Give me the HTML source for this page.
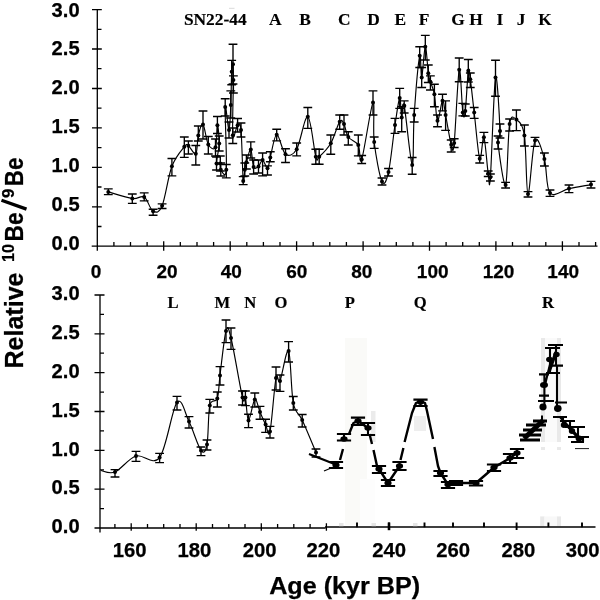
<!DOCTYPE html><html><head><meta charset="utf-8"><title>chart</title>
<style>html,body{margin:0;padding:0;background:#fff;}body{width:600px;height:600px;overflow:hidden;font-family:"Liberation Sans",sans-serif;}svg{display:block;will-change:transform;filter:blur(0.4px);}text{font-family:"Liberation Sans",sans-serif;font-weight:bold;fill:#000;stroke:#000;stroke-width:0.25px;}.s{font-family:"Liberation Serif",serif;font-weight:bold;stroke-width:0.15px;}</style>
</head><body>
<svg width="600" height="600" viewBox="0 0 600 600">
<rect width="600" height="600" fill="#fff"/>
<g>
<rect x="345" y="338" width="22" height="187" fill="#fafaf8"/>
<rect x="360" y="479" width="15" height="46" fill="#fdfdfd"/>
<rect x="371" y="411" width="4.5" height="31" fill="#ebebeb"/>
<rect x="414" y="416" width="12" height="15" fill="#eeeeee"/>
<rect x="541" y="338" width="20" height="104" fill="#fafafa"/>
<rect x="541" y="338" width="4" height="104" fill="#e9e9e9"/>
<rect x="557" y="338" width="4" height="104" fill="#e9e9e9"/>
<rect x="541" y="447" width="4" height="3" fill="#e9e9e9"/>
<rect x="557" y="447" width="4" height="3" fill="#e9e9e9"/>
<rect x="540.2" y="516.4" width="4.3" height="10" fill="#e9e9e9"/>
<rect x="556.7" y="516.4" width="4.3" height="10" fill="#e9e9e9"/><rect x="544.5" y="516.4" width="12.2" height="10" fill="#f8f8f8"/>
</g>
<path d="M97.3 9.6V250.8M92.0 246.2H101.8M92.0 206.8H101.8M92.0 167.3H101.8M92.0 127.9H101.8M92.0 88.5H101.8M92.0 49.0H101.8M92.0 9.6H101.8M97.3 226.5H101.5M97.3 187.0H101.5M97.3 147.6H101.5M97.3 108.2H101.5M97.3 68.7H101.5M97.3 29.3H101.5M91.7 246.2H597.5M113.9 242.0V246.2M130.5 242.0V246.2M147.1 242.0V246.2M163.7 241.3V250.8M180.3 242.0V246.2M197.0 242.0V246.2M213.6 242.0V246.2M230.2 241.3V250.8M246.8 242.0V246.2M263.4 242.0V246.2M280.0 242.0V246.2M296.6 241.3V250.8M313.2 242.0V246.2M329.8 242.0V246.2M346.4 242.0V246.2M363.1 241.3V250.8M379.7 242.0V246.2M396.3 242.0V246.2M412.9 242.0V246.2M429.5 241.3V250.8M446.1 242.0V246.2M462.7 242.0V246.2M479.3 242.0V246.2M495.9 241.3V250.8M512.5 242.0V246.2M529.2 242.0V246.2M545.8 242.0V246.2M562.4 241.3V250.8M579.0 242.0V246.2M595.6 242.0V246.2" stroke="#000" stroke-width="1.3" fill="none"/>
<path d="M100.0 295.0V532.5M94.5 528.0H104.5M94.5 489.2H104.5M94.5 450.3H104.5M94.5 411.5H104.5M94.5 372.7H104.5M94.5 333.8H104.5M94.5 295.0H104.5M100.0 508.6H104.0M100.0 469.8H104.0M100.0 430.9H104.0M100.0 392.1H104.0M100.0 353.2H104.0M100.0 314.4H104.0M94.5 528.0H325.5M114.9 524.0V528.0M131.2 523.3V530.8M147.5 524.0V528.0M163.7 524.0V528.0M180.0 524.0V528.0M196.2 523.3V530.8M212.5 524.0V528.0M228.8 524.0V528.0M245.0 524.0V528.0M261.3 523.3V530.8M277.6 524.0V528.0M293.8 524.0V528.0M310.1 524.0V528.0M326.4 523.3V530.8" stroke="#000" stroke-width="1.3" fill="none"/>
<path d="M325 526.9H595.5" stroke="#000" stroke-width="1.5" fill="none"/>
<path d="M357.0 522.5V527.2M389.0 522.5V530.0M424.5 522.5V527.2M453.0 522.5V527.2M484.0 522.5V527.2M516.6 522.5V530.0M548.4 522.5V527.2M582.0 522.5V527.2" stroke="#000" stroke-width="1.9" fill="none"/>
<path d="M389 522.5V530.2" stroke="#000" stroke-width="2.6" fill="none"/>
<rect x="339.0" y="523" width="4.5" height="3.2" fill="#e6e6e6"/>
<rect x="371.5" y="523" width="4.5" height="3.2" fill="#e6e6e6"/>
<rect x="413.0" y="523" width="4.5" height="3.2" fill="#e6e6e6"/>
<text x="79.6" y="249.9" font-size="19.3" text-anchor="end" textLength="28" lengthAdjust="spacingAndGlyphs">0.0</text>
<text x="79.6" y="533.2" font-size="19.3" text-anchor="end" textLength="28" lengthAdjust="spacingAndGlyphs">0.0</text>
<text x="79.6" y="211.0" font-size="19.3" text-anchor="end" textLength="28" lengthAdjust="spacingAndGlyphs">0.5</text>
<text x="79.6" y="494.4" font-size="19.3" text-anchor="end" textLength="28" lengthAdjust="spacingAndGlyphs">0.5</text>
<text x="79.6" y="172.1" font-size="19.3" text-anchor="end" textLength="28" lengthAdjust="spacingAndGlyphs">1.0</text>
<text x="79.6" y="455.5" font-size="19.3" text-anchor="end" textLength="28" lengthAdjust="spacingAndGlyphs">1.0</text>
<text x="79.6" y="133.2" font-size="19.3" text-anchor="end" textLength="28" lengthAdjust="spacingAndGlyphs">1.5</text>
<text x="79.6" y="416.7" font-size="19.3" text-anchor="end" textLength="28" lengthAdjust="spacingAndGlyphs">1.5</text>
<text x="79.6" y="94.3" font-size="19.3" text-anchor="end" textLength="28" lengthAdjust="spacingAndGlyphs">2.0</text>
<text x="79.6" y="377.9" font-size="19.3" text-anchor="end" textLength="28" lengthAdjust="spacingAndGlyphs">2.0</text>
<text x="79.6" y="55.4" font-size="19.3" text-anchor="end" textLength="28" lengthAdjust="spacingAndGlyphs">2.5</text>
<text x="79.6" y="339.0" font-size="19.3" text-anchor="end" textLength="28" lengthAdjust="spacingAndGlyphs">2.5</text>
<text x="79.6" y="16.5" font-size="19.3" text-anchor="end" textLength="28" lengthAdjust="spacingAndGlyphs">3.0</text>
<text x="79.6" y="300.2" font-size="19.3" text-anchor="end" textLength="28" lengthAdjust="spacingAndGlyphs">3.0</text>
<text x="96.0" y="277.9" font-size="19.0" text-anchor="middle">0</text>
<text x="167.0" y="277.9" font-size="19.0" text-anchor="middle">20</text>
<text x="231.3" y="277.9" font-size="19.0" text-anchor="middle">40</text>
<text x="296.7" y="277.9" font-size="19.0" text-anchor="middle">60</text>
<text x="361.7" y="277.9" font-size="19.0" text-anchor="middle">80</text>
<text x="432.7" y="277.9" font-size="19.0" text-anchor="middle">100</text>
<text x="498.6" y="277.9" font-size="19.0" text-anchor="middle">120</text>
<text x="563.2" y="277.9" font-size="19.0" text-anchor="middle">140</text>
<text x="129.7" y="557.3" font-size="20.3" text-anchor="middle">160</text>
<text x="194.3" y="557.3" font-size="20.3" text-anchor="middle">180</text>
<text x="259.7" y="557.3" font-size="20.3" text-anchor="middle">200</text>
<text x="323.4" y="557.3" font-size="20.3" text-anchor="middle">220</text>
<text x="389.2" y="557.3" font-size="20.3" text-anchor="middle">240</text>
<text x="453.1" y="557.3" font-size="20.3" text-anchor="middle">260</text>
<text x="518.3" y="557.3" font-size="20.3" text-anchor="middle">280</text>
<text x="582.7" y="557.3" font-size="20.3" text-anchor="middle">300</text>
<text x="269.2" y="593.8" font-size="24.4" textLength="151" lengthAdjust="spacingAndGlyphs">Age (kyr BP)</text>
<g transform="translate(23.2,368.5) rotate(-90)">
<text x="0" y="0" font-size="25" textLength="96" lengthAdjust="spacingAndGlyphs">Relative</text>
<text x="106.5" y="-9.2" font-size="17.3" textLength="18" lengthAdjust="spacingAndGlyphs">10</text>
<text x="127" y="0" font-size="25" textLength="29" lengthAdjust="spacingAndGlyphs">Be</text>
<path d="M159.4 3.3L168.2 -21.7" stroke="#000" stroke-width="3.3" fill="none"/>
<text x="170.5" y="-9.2" font-size="17.3" textLength="9.3" lengthAdjust="spacingAndGlyphs">9</text>
<text x="182.3" y="0" font-size="25" textLength="28.5" lengthAdjust="spacingAndGlyphs">Be</text>
</g>
<text class="s" x="215.3" y="25.2" font-size="17.4" text-anchor="middle">SN22-44</text>
<text class="s" x="275.2" y="25.2" font-size="17.4" text-anchor="middle">A</text>
<text class="s" x="305.0" y="25.2" font-size="17.4" text-anchor="middle">B</text>
<text class="s" x="344.2" y="25.2" font-size="17.4" text-anchor="middle">C</text>
<text class="s" x="373.5" y="25.2" font-size="17.4" text-anchor="middle">D</text>
<text class="s" x="400.2" y="25.2" font-size="17.4" text-anchor="middle">E</text>
<text class="s" x="424.0" y="25.2" font-size="17.4" text-anchor="middle">F</text>
<text class="s" x="458.0" y="25.2" font-size="17.4" text-anchor="middle">G</text>
<text class="s" x="476.0" y="25.2" font-size="17.4" text-anchor="middle">H</text>
<text class="s" x="500.0" y="25.2" font-size="17.4" text-anchor="middle">I</text>
<text class="s" x="521.0" y="25.2" font-size="17.4" text-anchor="middle">J</text>
<text class="s" x="545.0" y="25.2" font-size="17.4" text-anchor="middle">K</text>
<text class="s" x="173.0" y="308.2" font-size="16.6" text-anchor="middle">L</text>
<text class="s" x="222.4" y="308.2" font-size="16.6" text-anchor="middle">M</text>
<text class="s" x="250.2" y="308.2" font-size="16.6" text-anchor="middle">N</text>
<text class="s" x="281.0" y="308.2" font-size="16.6" text-anchor="middle">O</text>
<text class="s" x="349.9" y="308.2" font-size="16.6" text-anchor="middle">P</text>
<text class="s" x="420.3" y="308.2" font-size="16.6" text-anchor="middle">Q</text>
<text class="s" x="548.0" y="308.2" font-size="16.6" text-anchor="middle">R</text>
<path d="M229 8.3H234.5" stroke="#d6d6d6" stroke-width="0.9" fill="none"/>
<path d="M108.3 191.9 C112.3 193.0 126.3 197.6 132.3 198.5 C138.3 199.4 140.7 195.0 144.2 197.1 C147.7 199.2 150.1 209.9 153.1 211.3 C156.1 212.8 159.0 213.3 162.1 205.8 C165.2 198.3 168.2 176.2 171.9 166.3 C175.6 156.5 181.6 150.1 184.3 146.7 C187.1 143.3 186.5 144.5 188.4 145.7 C190.3 146.9 194.2 155.5 195.8 153.8 C197.5 152.1 197.1 140.4 198.3 135.5 C199.5 130.6 201.3 123.0 203.0 124.5 C204.7 126.0 206.2 140.7 208.3 144.5 C210.4 148.3 214.0 150.5 215.5 147.3 C217.0 144.1 216.8 125.8 217.4 125.2 C218.0 124.6 219.3 137.1 219.2 143.5 C219.0 149.9 216.3 160.2 216.5 163.6 C216.7 166.9 219.6 162.6 220.3 163.6 C221.0 164.6 219.8 168.8 220.8 169.8 C221.8 170.8 225.6 180.3 226.3 169.8 C227.0 159.3 224.8 113.6 225.2 107.0 C225.6 100.4 228.1 130.3 229.0 130.0 C229.9 129.7 230.4 114.7 230.8 105.0 C231.2 95.3 231.3 78.5 231.7 71.7 C232.1 64.9 232.7 62.8 233.0 64.2 C233.3 65.6 233.4 68.2 233.4 80.0 C233.4 91.8 232.1 127.6 232.8 135.2 C233.5 142.8 236.2 126.2 237.6 125.3 C239.0 124.4 240.1 120.7 241.0 130.0 C241.9 139.3 242.6 174.4 243.2 181.0 C243.8 187.6 244.3 172.9 244.8 169.8 C245.3 166.7 245.4 165.7 246.4 162.3 C247.4 158.9 249.6 148.6 250.8 149.4 C252.0 150.2 252.3 164.2 253.6 167.0 C254.9 169.8 257.0 167.6 258.5 166.4 C260.0 165.2 261.1 159.7 262.6 160.0 C264.1 160.3 266.2 168.7 267.5 168.3 C268.8 167.9 268.8 163.1 270.3 157.5 C271.8 151.9 274.2 135.2 276.7 134.7 C279.2 134.1 282.2 151.8 285.5 154.2 C288.8 156.6 293.0 155.4 296.7 149.2 C300.4 142.9 304.6 115.5 307.8 116.7 C311.0 118.0 313.9 150.0 315.8 156.7 C317.7 163.4 316.7 158.9 319.2 156.7 C321.7 154.5 327.4 149.1 330.8 143.3 C334.2 137.5 337.5 124.9 339.7 121.7 C341.9 118.5 342.6 121.5 344.0 124.0 C345.4 126.5 345.9 133.5 348.3 137.0 C350.7 140.5 356.1 141.2 358.3 145.0 C360.5 148.8 359.2 166.6 361.7 159.5 C364.1 152.4 370.9 105.4 373.0 102.5 C375.1 99.6 372.7 128.8 374.2 142.0 C375.7 155.2 379.6 176.5 382.0 181.5 C384.4 186.5 386.3 181.4 388.5 172.0 C390.7 162.6 393.1 137.3 395.0 125.0 C396.9 112.7 398.6 99.2 399.7 98.0 C400.8 96.8 400.9 116.2 401.7 117.5 C402.4 118.8 402.4 97.6 404.2 105.5 C405.9 113.4 410.5 163.4 412.2 165.0 C413.9 166.6 412.9 133.2 414.2 115.0 C415.4 96.8 418.4 62.0 419.7 55.8 C420.9 49.5 420.8 79.0 421.7 77.5 C422.6 76.0 424.2 47.4 425.3 46.7 C426.4 46.0 427.5 67.5 428.3 73.3 C429.1 79.1 429.4 78.2 430.4 81.7 C431.4 85.2 433.2 87.7 434.4 94.2 C435.6 100.7 436.1 119.7 437.5 120.8 C438.9 121.9 441.1 101.8 442.5 100.8 C443.9 99.8 444.2 107.7 445.6 115.0 C447.1 122.3 449.8 140.0 451.2 144.7 C452.6 149.4 452.9 155.5 454.2 143.0 C455.5 130.5 457.8 74.8 459.2 69.7 C460.6 64.6 461.8 105.6 462.8 112.5 C463.8 119.4 464.4 118.0 465.3 111.0 C466.2 104.0 467.5 76.1 468.3 70.8 C469.1 65.5 469.3 72.2 470.3 79.2 C471.3 86.2 472.6 99.2 474.2 112.5 C475.8 125.8 478.1 154.6 479.7 158.7 C481.3 162.8 482.5 134.8 483.9 137.3 C485.3 139.8 487.1 166.8 488.2 173.5 C489.3 180.2 489.2 193.2 490.4 177.2 C491.6 161.2 493.9 85.3 495.5 77.6 C497.1 69.9 499.6 120.2 500.0 131.0 C500.4 141.8 497.1 133.4 498.0 142.4 C498.9 151.4 503.7 188.1 505.6 185.0 C507.5 181.9 507.8 134.9 509.6 124.0 C511.4 113.1 513.9 117.7 516.4 119.6 C518.9 121.5 522.5 123.2 524.4 135.6 C526.3 148.0 526.2 193.2 528.0 194.0 C529.8 194.8 532.3 146.2 535.0 140.4 C537.7 134.6 541.9 150.2 544.4 159.0 C546.9 167.8 545.9 188.1 550.0 193.0 C554.1 197.9 562.2 190.0 569.0 188.6 C575.8 187.2 587.3 185.3 591.0 184.6" stroke="#000" stroke-width="1.15" fill="none" stroke-linejoin="round"/>
<path d="M108.3 188.8V194.6M103.9 188.8H112.7M103.9 194.6H112.7" stroke="#000" stroke-width="1.35" fill="none"/><circle cx="108.3" cy="191.9" r="2.0" fill="#000"/>
<path d="M132.3 194.0V203.3M127.9 194.0H136.7M127.9 203.3H136.7" stroke="#000" stroke-width="1.35" fill="none"/><circle cx="132.3" cy="198.5" r="2.0" fill="#000"/>
<path d="M144.2 192.9V200.8M139.8 192.9H148.6M139.8 200.8H148.6" stroke="#000" stroke-width="1.35" fill="none"/><circle cx="144.2" cy="197.1" r="2.0" fill="#000"/>
<path d="M153.1 209.2V215.2M148.7 209.2H157.5M148.7 215.2H157.5" stroke="#000" stroke-width="1.35" fill="none"/><circle cx="153.1" cy="211.3" r="2.0" fill="#000"/>
<path d="M162.1 203.8V208.5M157.7 203.8H166.5M157.7 208.5H166.5" stroke="#000" stroke-width="1.35" fill="none"/><circle cx="162.1" cy="205.8" r="2.0" fill="#000"/>
<path d="M171.9 158.5V175.8M167.5 158.5H176.3M167.5 175.8H176.3" stroke="#000" stroke-width="1.35" fill="none"/><circle cx="171.9" cy="166.3" r="2.0" fill="#000"/>
<path d="M184.3 137.0V157.3M179.9 137.0H188.7M179.9 157.3H188.7" stroke="#000" stroke-width="1.35" fill="none"/><circle cx="184.3" cy="146.7" r="2.0" fill="#000"/>
<path d="M188.4 141.0V154.0M184.0 141.0H192.8M184.0 154.0H192.8" stroke="#000" stroke-width="1.35" fill="none"/><circle cx="188.4" cy="145.7" r="2.0" fill="#000"/>
<path d="M195.8 145.5V165.0M191.4 145.5H200.2M191.4 165.0H200.2" stroke="#000" stroke-width="1.35" fill="none"/><circle cx="195.8" cy="153.8" r="2.0" fill="#000"/>
<path d="M198.3 126.0V141.0M193.9 126.0H202.7M193.9 141.0H202.7" stroke="#000" stroke-width="1.35" fill="none"/><circle cx="198.3" cy="135.5" r="2.0" fill="#000"/>
<path d="M203.0 111.0V139.0M198.6 111.0H207.4M198.6 139.0H207.4" stroke="#000" stroke-width="1.35" fill="none"/><circle cx="203.0" cy="124.5" r="2.0" fill="#000"/>
<path d="M208.3 136.5V154.0M203.9 136.5H212.7M203.9 154.0H212.7" stroke="#000" stroke-width="1.35" fill="none"/><circle cx="208.3" cy="144.5" r="2.0" fill="#000"/>
<path d="M215.5 139.0V156.0M211.1 139.0H219.9M211.1 156.0H219.9" stroke="#000" stroke-width="1.35" fill="none"/><circle cx="215.5" cy="147.3" r="2.0" fill="#000"/>
<path d="M217.4 116.5V133.5M213.0 116.5H221.8M213.0 133.5H221.8" stroke="#000" stroke-width="1.35" fill="none"/><circle cx="217.4" cy="125.2" r="2.0" fill="#000"/>
<path d="M219.2 136.0V151.0M214.8 136.0H223.6M214.8 151.0H223.6" stroke="#000" stroke-width="1.35" fill="none"/><circle cx="219.2" cy="143.5" r="2.0" fill="#000"/>
<path d="M216.5 157.0V170.0M212.1 157.0H220.9M212.1 170.0H220.9" stroke="#000" stroke-width="1.35" fill="none"/><circle cx="216.5" cy="163.6" r="2.0" fill="#000"/>
<path d="M220.3 156.0V171.0M215.9 156.0H224.7M215.9 171.0H224.7" stroke="#000" stroke-width="1.35" fill="none"/><circle cx="220.3" cy="163.6" r="2.0" fill="#000"/>
<path d="M220.8 163.0V176.0M216.4 163.0H225.2M216.4 176.0H225.2" stroke="#000" stroke-width="1.35" fill="none"/><circle cx="220.8" cy="169.8" r="2.0" fill="#000"/>
<path d="M226.3 164.5V177.8M221.9 164.5H230.7M221.9 177.8H230.7" stroke="#000" stroke-width="1.35" fill="none"/><circle cx="226.3" cy="169.8" r="2.0" fill="#000"/>
<path d="M225.2 98.7V116.0M220.8 98.7H229.6M220.8 116.0H229.6" stroke="#000" stroke-width="1.35" fill="none"/><circle cx="225.2" cy="107.0" r="2.0" fill="#000"/>
<path d="M229.0 122.0V138.0M224.6 122.0H233.4M224.6 138.0H233.4" stroke="#000" stroke-width="1.35" fill="none"/><circle cx="229.0" cy="130.0" r="2.0" fill="#000"/>
<path d="M230.8 90.8V118.0M226.4 90.8H235.2M226.4 118.0H235.2" stroke="#000" stroke-width="1.35" fill="none"/><circle cx="230.8" cy="105.0" r="2.0" fill="#000"/>
<path d="M231.7 60.3V84.7M227.3 60.3H236.1M227.3 84.7H236.1" stroke="#000" stroke-width="1.35" fill="none"/><circle cx="231.7" cy="71.7" r="2.0" fill="#000"/>
<path d="M233.0 44.2V84.0M228.6 44.2H237.4M228.6 84.0H237.4" stroke="#000" stroke-width="1.35" fill="none"/><circle cx="233.0" cy="64.2" r="2.0" fill="#000"/>
<path d="M233.4 75.8V93.0M229.0 75.8H237.8M229.0 93.0H237.8" stroke="#000" stroke-width="1.35" fill="none"/><circle cx="233.4" cy="80.0" r="2.0" fill="#000"/>
<path d="M232.8 128.0V143.5M228.4 128.0H237.2M228.4 143.5H237.2" stroke="#000" stroke-width="1.35" fill="none"/><circle cx="232.8" cy="135.2" r="2.0" fill="#000"/>
<path d="M237.6 118.5V132.0M233.2 118.5H242.0M233.2 132.0H242.0" stroke="#000" stroke-width="1.35" fill="none"/><circle cx="237.6" cy="125.3" r="2.0" fill="#000"/>
<path d="M241.0 123.0V137.0M236.6 123.0H245.4M236.6 137.0H245.4" stroke="#000" stroke-width="1.35" fill="none"/><circle cx="241.0" cy="130.0" r="2.0" fill="#000"/>
<path d="M243.2 176.6V184.6M238.8 176.6H247.6M238.8 184.6H247.6" stroke="#000" stroke-width="1.35" fill="none"/><circle cx="243.2" cy="181.0" r="2.0" fill="#000"/>
<path d="M244.8 163.0V176.0M240.4 163.0H249.2M240.4 176.0H249.2" stroke="#000" stroke-width="1.35" fill="none"/><circle cx="244.8" cy="169.8" r="2.0" fill="#000"/>
<path d="M246.4 155.0V169.0M242.0 155.0H250.8M242.0 169.0H250.8" stroke="#000" stroke-width="1.35" fill="none"/><circle cx="246.4" cy="162.3" r="2.0" fill="#000"/>
<path d="M250.8 141.8V158.0M246.4 141.8H255.2M246.4 158.0H255.2" stroke="#000" stroke-width="1.35" fill="none"/><circle cx="250.8" cy="149.4" r="2.0" fill="#000"/>
<path d="M253.6 160.0V174.0M249.2 160.0H258.0M249.2 174.0H258.0" stroke="#000" stroke-width="1.35" fill="none"/><circle cx="253.6" cy="167.0" r="2.0" fill="#000"/>
<path d="M258.5 160.0V173.0M254.1 160.0H262.9M254.1 173.0H262.9" stroke="#000" stroke-width="1.35" fill="none"/><circle cx="258.5" cy="166.4" r="2.0" fill="#000"/>
<path d="M262.6 153.0V175.8M258.2 153.0H267.0M258.2 175.8H267.0" stroke="#000" stroke-width="1.35" fill="none"/><circle cx="262.6" cy="160.0" r="2.0" fill="#000"/>
<path d="M267.5 165.8V175.0M263.1 165.8H271.9M263.1 175.0H271.9" stroke="#000" stroke-width="1.35" fill="none"/><circle cx="267.5" cy="168.3" r="2.0" fill="#000"/>
<path d="M270.3 151.7V161.7M265.9 151.7H274.7M265.9 161.7H274.7" stroke="#000" stroke-width="1.35" fill="none"/><circle cx="270.3" cy="157.5" r="2.0" fill="#000"/>
<path d="M276.7 129.2V140.8M272.3 129.2H281.1M272.3 140.8H281.1" stroke="#000" stroke-width="1.35" fill="none"/><circle cx="276.7" cy="134.7" r="2.0" fill="#000"/>
<path d="M285.5 148.7V162.5M281.1 148.7H289.9M281.1 162.5H289.9" stroke="#000" stroke-width="1.35" fill="none"/><circle cx="285.5" cy="154.2" r="2.0" fill="#000"/>
<path d="M296.7 143.0V155.8M292.3 143.0H301.1M292.3 155.8H301.1" stroke="#000" stroke-width="1.35" fill="none"/><circle cx="296.7" cy="149.2" r="2.0" fill="#000"/>
<path d="M307.8 107.5V128.3M303.4 107.5H312.2M303.4 128.3H312.2" stroke="#000" stroke-width="1.35" fill="none"/><circle cx="307.8" cy="116.7" r="2.0" fill="#000"/>
<path d="M315.8 149.2V164.2M311.4 149.2H320.2M311.4 164.2H320.2" stroke="#000" stroke-width="1.35" fill="none"/><circle cx="315.8" cy="156.7" r="2.0" fill="#000"/>
<path d="M319.2 149.2V164.2M314.8 149.2H323.6M314.8 164.2H323.6" stroke="#000" stroke-width="1.35" fill="none"/><circle cx="319.2" cy="156.7" r="2.0" fill="#000"/>
<path d="M330.8 135.0V154.2M326.4 135.0H335.2M326.4 154.2H335.2" stroke="#000" stroke-width="1.35" fill="none"/><circle cx="330.8" cy="143.3" r="2.0" fill="#000"/>
<path d="M339.7 115.0V129.2M335.3 115.0H344.1M335.3 129.2H344.1" stroke="#000" stroke-width="1.35" fill="none"/><circle cx="339.7" cy="121.7" r="2.0" fill="#000"/>
<path d="M344.0 115.0V135.0M339.6 115.0H348.4M339.6 135.0H348.4" stroke="#000" stroke-width="1.35" fill="none"/><circle cx="344.0" cy="124.0" r="2.0" fill="#000"/>
<path d="M348.3 131.7V145.0M343.9 131.7H352.7M343.9 145.0H352.7" stroke="#000" stroke-width="1.35" fill="none"/><circle cx="348.3" cy="137.0" r="2.0" fill="#000"/>
<path d="M358.3 135.0V155.8M353.9 135.0H362.7M353.9 155.8H362.7" stroke="#000" stroke-width="1.35" fill="none"/><circle cx="358.3" cy="145.0" r="2.0" fill="#000"/>
<path d="M361.7 155.5V163.5M357.3 155.5H366.1M357.3 163.5H366.1" stroke="#000" stroke-width="1.35" fill="none"/><circle cx="361.7" cy="159.5" r="2.0" fill="#000"/>
<path d="M373.0 90.8V115.0M368.6 90.8H377.4M368.6 115.0H377.4" stroke="#000" stroke-width="1.35" fill="none"/><circle cx="373.0" cy="102.5" r="2.0" fill="#000"/>
<path d="M374.2 137.0V148.3M369.8 137.0H378.6M369.8 148.3H378.6" stroke="#000" stroke-width="1.35" fill="none"/><circle cx="374.2" cy="142.0" r="2.0" fill="#000"/>
<path d="M382.0 178.0V185.0M377.6 178.0H386.4M377.6 185.0H386.4" stroke="#000" stroke-width="1.35" fill="none"/><circle cx="382.0" cy="181.5" r="2.0" fill="#000"/>
<path d="M388.5 168.5V176.0M384.1 168.5H392.9M384.1 176.0H392.9" stroke="#000" stroke-width="1.35" fill="none"/><circle cx="388.5" cy="172.0" r="2.0" fill="#000"/>
<path d="M395.0 118.3V133.3M390.6 118.3H399.4M390.6 133.3H399.4" stroke="#000" stroke-width="1.35" fill="none"/><circle cx="395.0" cy="125.0" r="2.0" fill="#000"/>
<path d="M399.7 88.3V108.3M395.3 88.3H404.1M395.3 108.3H404.1" stroke="#000" stroke-width="1.35" fill="none"/><circle cx="399.7" cy="98.0" r="2.0" fill="#000"/>
<path d="M401.7 106.7V131.7M397.3 106.7H406.1M397.3 131.7H406.1" stroke="#000" stroke-width="1.35" fill="none"/><circle cx="401.7" cy="117.5" r="2.0" fill="#000"/>
<path d="M404.2 100.8V113.0M399.8 100.8H408.6M399.8 113.0H408.6" stroke="#000" stroke-width="1.35" fill="none"/><circle cx="404.2" cy="105.5" r="2.0" fill="#000"/>
<path d="M412.2 157.5V174.2M407.8 157.5H416.6M407.8 174.2H416.6" stroke="#000" stroke-width="1.35" fill="none"/><circle cx="412.2" cy="165.0" r="2.0" fill="#000"/>
<path d="M414.2 108.3V122.0M409.8 108.3H418.6M409.8 122.0H418.6" stroke="#000" stroke-width="1.35" fill="none"/><circle cx="414.2" cy="115.0" r="2.0" fill="#000"/>
<path d="M419.7 46.7V67.5M415.3 46.7H424.1M415.3 67.5H424.1" stroke="#000" stroke-width="1.35" fill="none"/><circle cx="419.7" cy="55.8" r="2.0" fill="#000"/>
<path d="M421.7 67.5V87.5M417.3 67.5H426.1M417.3 87.5H426.1" stroke="#000" stroke-width="1.35" fill="none"/><circle cx="421.7" cy="77.5" r="2.0" fill="#000"/>
<path d="M425.3 35.3V60.0M420.9 35.3H429.7M420.9 60.0H429.7" stroke="#000" stroke-width="1.35" fill="none"/><circle cx="425.3" cy="46.7" r="2.0" fill="#000"/>
<path d="M428.3 65.0V82.5M423.9 65.0H432.7M423.9 82.5H432.7" stroke="#000" stroke-width="1.35" fill="none"/><circle cx="428.3" cy="73.3" r="2.0" fill="#000"/>
<path d="M430.4 75.8V90.0M426.0 75.8H434.8M426.0 90.0H434.8" stroke="#000" stroke-width="1.35" fill="none"/><circle cx="430.4" cy="81.7" r="2.0" fill="#000"/>
<path d="M434.4 84.2V106.7M430.0 84.2H438.8M430.0 106.7H438.8" stroke="#000" stroke-width="1.35" fill="none"/><circle cx="434.4" cy="94.2" r="2.0" fill="#000"/>
<path d="M437.5 115.0V126.7M433.1 115.0H441.9M433.1 126.7H441.9" stroke="#000" stroke-width="1.35" fill="none"/><circle cx="437.5" cy="120.8" r="2.0" fill="#000"/>
<path d="M442.5 94.2V110.8M438.1 94.2H446.9M438.1 110.8H446.9" stroke="#000" stroke-width="1.35" fill="none"/><circle cx="442.5" cy="100.8" r="2.0" fill="#000"/>
<path d="M445.6 100.8V130.3M441.2 100.8H450.0M441.2 130.3H450.0" stroke="#000" stroke-width="1.35" fill="none"/><circle cx="445.6" cy="115.0" r="2.0" fill="#000"/>
<path d="M451.2 140.0V152.0M446.8 140.0H455.6M446.8 152.0H455.6" stroke="#000" stroke-width="1.35" fill="none"/><circle cx="451.2" cy="144.7" r="2.0" fill="#000"/>
<path d="M454.2 138.7V147.5M449.8 138.7H458.6M449.8 147.5H458.6" stroke="#000" stroke-width="1.35" fill="none"/><circle cx="454.2" cy="143.0" r="2.0" fill="#000"/>
<path d="M459.2 58.0V81.7M454.8 58.0H463.6M454.8 81.7H463.6" stroke="#000" stroke-width="1.35" fill="none"/><circle cx="459.2" cy="69.7" r="2.0" fill="#000"/>
<path d="M462.8 103.3V115.8M458.4 103.3H467.2M458.4 115.8H467.2" stroke="#000" stroke-width="1.35" fill="none"/><circle cx="462.8" cy="112.5" r="2.0" fill="#000"/>
<path d="M465.3 104.0V116.0M460.9 104.0H469.7M460.9 116.0H469.7" stroke="#000" stroke-width="1.35" fill="none"/><circle cx="465.3" cy="111.0" r="2.0" fill="#000"/>
<path d="M468.3 59.5V82.0M463.9 59.5H472.7M463.9 82.0H472.7" stroke="#000" stroke-width="1.35" fill="none"/><circle cx="468.3" cy="70.8" r="2.0" fill="#000"/>
<path d="M470.3 73.0V87.5M465.9 73.0H474.7M465.9 87.5H474.7" stroke="#000" stroke-width="1.35" fill="none"/><circle cx="470.3" cy="79.2" r="2.0" fill="#000"/>
<path d="M474.2 107.5V118.3M469.8 107.5H478.6M469.8 118.3H478.6" stroke="#000" stroke-width="1.35" fill="none"/><circle cx="474.2" cy="112.5" r="2.0" fill="#000"/>
<path d="M479.7 155.3V163.0M475.3 155.3H484.1M475.3 163.0H484.1" stroke="#000" stroke-width="1.35" fill="none"/><circle cx="479.7" cy="158.7" r="2.0" fill="#000"/>
<path d="M483.9 132.4V142.6M479.5 132.4H488.3M479.5 142.6H488.3" stroke="#000" stroke-width="1.35" fill="none"/><circle cx="483.9" cy="137.3" r="2.0" fill="#000"/>
<path d="M488.2 171.0V176.5M483.8 171.0H492.6M483.8 176.5H492.6" stroke="#000" stroke-width="1.35" fill="none"/><circle cx="488.2" cy="173.5" r="2.0" fill="#000"/>
<path d="M490.4 174.0V181.0M486.0 174.0H494.8M486.0 181.0H494.8" stroke="#000" stroke-width="1.35" fill="none"/><circle cx="490.4" cy="177.2" r="2.0" fill="#000"/>
<path d="M495.5 60.2V96.2M491.1 60.2H499.9M491.1 96.2H499.9" stroke="#000" stroke-width="1.35" fill="none"/><circle cx="495.5" cy="77.6" r="2.0" fill="#000"/>
<path d="M500.0 124.0V138.0M495.6 124.0H504.4M495.6 138.0H504.4" stroke="#000" stroke-width="1.35" fill="none"/><circle cx="500.0" cy="131.0" r="2.0" fill="#000"/>
<path d="M498.0 136.0V149.0M493.6 136.0H502.4M493.6 149.0H502.4" stroke="#000" stroke-width="1.35" fill="none"/><circle cx="498.0" cy="142.4" r="2.0" fill="#000"/>
<path d="M505.6 182.4V188.0M501.2 182.4H510.0M501.2 188.0H510.0" stroke="#000" stroke-width="1.35" fill="none"/><circle cx="505.6" cy="185.0" r="2.0" fill="#000"/>
<path d="M509.6 119.0V131.0M505.2 119.0H514.0M505.2 131.0H514.0" stroke="#000" stroke-width="1.35" fill="none"/><circle cx="509.6" cy="124.0" r="2.0" fill="#000"/>
<path d="M516.4 110.0V130.6M512.0 110.0H520.8M512.0 130.6H520.8" stroke="#000" stroke-width="1.35" fill="none"/><circle cx="516.4" cy="119.6" r="2.0" fill="#000"/>
<path d="M524.4 125.0V146.0M520.0 125.0H528.8M520.0 146.0H528.8" stroke="#000" stroke-width="1.35" fill="none"/><circle cx="524.4" cy="135.6" r="2.0" fill="#000"/>
<path d="M528.0 191.6V197.0M523.6 191.6H532.4M523.6 197.0H532.4" stroke="#000" stroke-width="1.35" fill="none"/><circle cx="528.0" cy="194.0" r="2.0" fill="#000"/>
<path d="M535.0 137.4V146.4M530.6 137.4H539.4M530.6 146.4H539.4" stroke="#000" stroke-width="1.35" fill="none"/><circle cx="535.0" cy="140.4" r="2.0" fill="#000"/>
<path d="M544.4 153.0V166.0M540.0 153.0H548.8M540.0 166.0H548.8" stroke="#000" stroke-width="1.35" fill="none"/><circle cx="544.4" cy="159.0" r="2.0" fill="#000"/>
<path d="M550.0 190.0V196.4M545.6 190.0H554.4M545.6 196.4H554.4" stroke="#000" stroke-width="1.35" fill="none"/><circle cx="550.0" cy="193.0" r="2.0" fill="#000"/>
<path d="M569.0 185.0V192.6M564.6 185.0H573.4M564.6 192.6H573.4" stroke="#000" stroke-width="1.35" fill="none"/><circle cx="569.0" cy="188.6" r="2.0" fill="#000"/>
<path d="M591.0 181.4V188.0M586.6 181.4H595.4M586.6 188.0H595.4" stroke="#000" stroke-width="1.35" fill="none"/><circle cx="591.0" cy="184.6" r="2.0" fill="#000"/>
<path d="M101.0 470.5 C103.3 470.8 109.2 474.4 115.0 472.0 C120.8 469.6 128.6 458.4 136.0 456.0 C143.4 453.6 152.8 466.5 159.6 457.6 C166.4 448.7 172.1 408.4 177.0 402.4 C181.9 396.4 185.0 413.6 189.0 421.6 C193.0 429.6 198.0 446.6 201.0 450.4 C204.0 454.2 205.5 451.9 207.0 444.4 C208.5 436.9 208.1 413.0 209.8 405.4 C211.5 397.8 215.6 403.5 217.3 398.5 C219.0 393.5 218.6 386.6 220.0 375.4 C221.4 364.1 224.2 337.2 226.0 331.0 C227.8 324.8 228.2 326.9 231.0 338.0 C233.8 349.1 240.1 387.7 242.5 397.6 C244.9 407.5 244.4 393.8 245.4 397.6 C246.4 401.4 246.9 420.2 248.5 420.5 C250.1 420.8 252.9 400.9 254.8 399.5 C256.7 398.1 258.2 407.8 260.0 412.0 C261.8 416.2 263.9 421.2 265.6 424.5 C267.3 427.8 268.3 439.4 270.0 431.6 C271.7 423.9 274.3 386.4 276.0 378.0 C277.7 369.6 277.9 385.5 280.0 381.0 C282.1 376.5 286.4 347.3 288.6 351.0 C290.8 354.7 291.0 391.5 293.3 403.0 C295.6 414.5 298.4 411.8 302.2 420.0 C306.0 428.2 313.7 447.0 316.0 452.4" stroke="#000" stroke-width="1.15" fill="none" stroke-linejoin="round"/>
<path d="M115.0 469.6V477.0M110.6 469.6H119.4M110.6 477.0H119.4" stroke="#000" stroke-width="1.35" fill="none"/><circle cx="115.0" cy="472.0" r="2.0" fill="#000"/>
<path d="M136.0 451.4V461.4M131.6 451.4H140.4M131.6 461.4H140.4" stroke="#000" stroke-width="1.35" fill="none"/><circle cx="136.0" cy="456.0" r="2.0" fill="#000"/>
<path d="M159.6 453.4V462.6M155.2 453.4H164.0M155.2 462.6H164.0" stroke="#000" stroke-width="1.35" fill="none"/><circle cx="159.6" cy="457.6" r="2.0" fill="#000"/>
<path d="M177.0 396.4V410.0M172.6 396.4H181.4M172.6 410.0H181.4" stroke="#000" stroke-width="1.35" fill="none"/><circle cx="177.0" cy="402.4" r="2.0" fill="#000"/>
<path d="M189.0 416.6V428.0M184.6 416.6H193.4M184.6 428.0H193.4" stroke="#000" stroke-width="1.35" fill="none"/><circle cx="189.0" cy="421.6" r="2.0" fill="#000"/>
<path d="M201.0 447.0V455.6M196.6 447.0H205.4M196.6 455.6H205.4" stroke="#000" stroke-width="1.35" fill="none"/><circle cx="201.0" cy="450.4" r="2.0" fill="#000"/>
<path d="M207.0 440.0V450.0M202.6 440.0H211.4M202.6 450.0H211.4" stroke="#000" stroke-width="1.35" fill="none"/><circle cx="207.0" cy="444.4" r="2.0" fill="#000"/>
<path d="M209.8 399.4V413.0M205.4 399.4H214.2M205.4 413.0H214.2" stroke="#000" stroke-width="1.35" fill="none"/><circle cx="209.8" cy="405.4" r="2.0" fill="#000"/>
<path d="M217.3 392.0V407.0M212.9 392.0H221.7M212.9 407.0H221.7" stroke="#000" stroke-width="1.35" fill="none"/><circle cx="217.3" cy="398.5" r="2.0" fill="#000"/>
<path d="M220.0 366.6V385.0M215.6 366.6H224.4M215.6 385.0H224.4" stroke="#000" stroke-width="1.35" fill="none"/><circle cx="220.0" cy="375.4" r="2.0" fill="#000"/>
<path d="M226.0 320.0V342.6M221.6 320.0H230.4M221.6 342.6H230.4" stroke="#000" stroke-width="1.35" fill="none"/><circle cx="226.0" cy="331.0" r="2.0" fill="#000"/>
<path d="M231.0 328.0V349.4M226.6 328.0H235.4M226.6 349.4H235.4" stroke="#000" stroke-width="1.35" fill="none"/><circle cx="231.0" cy="338.0" r="2.0" fill="#000"/>
<path d="M242.5 391.0V405.0M238.1 391.0H246.9M238.1 405.0H246.9" stroke="#000" stroke-width="1.35" fill="none"/><circle cx="242.5" cy="397.6" r="2.0" fill="#000"/>
<path d="M245.4 391.0V405.6M241.0 391.0H249.8M241.0 405.6H249.8" stroke="#000" stroke-width="1.35" fill="none"/><circle cx="245.4" cy="397.6" r="2.0" fill="#000"/>
<path d="M248.5 414.2V427.6M244.1 414.2H252.9M244.1 427.6H252.9" stroke="#000" stroke-width="1.35" fill="none"/><circle cx="248.5" cy="420.5" r="2.0" fill="#000"/>
<path d="M254.8 393.0V407.0M250.4 393.0H259.2M250.4 407.0H259.2" stroke="#000" stroke-width="1.35" fill="none"/><circle cx="254.8" cy="399.5" r="2.0" fill="#000"/>
<path d="M260.0 406.3V419.2M255.6 406.3H264.4M255.6 419.2H264.4" stroke="#000" stroke-width="1.35" fill="none"/><circle cx="260.0" cy="412.0" r="2.0" fill="#000"/>
<path d="M265.6 419.2V432.4M261.2 419.2H270.0M261.2 432.4H270.0" stroke="#000" stroke-width="1.35" fill="none"/><circle cx="265.6" cy="424.5" r="2.0" fill="#000"/>
<path d="M270.0 426.4V438.0M265.6 426.4H274.4M265.6 438.0H274.4" stroke="#000" stroke-width="1.35" fill="none"/><circle cx="270.0" cy="431.6" r="2.0" fill="#000"/>
<path d="M276.0 367.0V390.0M271.6 367.0H280.4M271.6 390.0H280.4" stroke="#000" stroke-width="1.35" fill="none"/><circle cx="276.0" cy="378.0" r="2.0" fill="#000"/>
<path d="M280.0 375.0V391.4M275.6 375.0H284.4M275.6 391.4H284.4" stroke="#000" stroke-width="1.35" fill="none"/><circle cx="280.0" cy="381.0" r="2.0" fill="#000"/>
<path d="M288.6 341.6V362.0M284.2 341.6H293.0M284.2 362.0H293.0" stroke="#000" stroke-width="1.35" fill="none"/><circle cx="288.6" cy="351.0" r="2.0" fill="#000"/>
<path d="M293.3 396.5V410.0M288.9 396.5H297.7M288.9 410.0H297.7" stroke="#000" stroke-width="1.35" fill="none"/><circle cx="293.3" cy="403.0" r="2.0" fill="#000"/>
<path d="M302.2 414.5V427.0M297.8 414.5H306.6M297.8 427.0H306.6" stroke="#000" stroke-width="1.35" fill="none"/><circle cx="302.2" cy="420.0" r="2.0" fill="#000"/>
<path d="M316.0 449.0V457.0M311.6 449.0H320.4M311.6 457.0H320.4" stroke="#000" stroke-width="1.35" fill="none"/><circle cx="316.0" cy="452.4" r="2.0" fill="#000"/>
<path d="M309 454L337 465" stroke="#000" stroke-width="2.2" fill="none"/>
<path d="M324 471L336 466" stroke="#000" stroke-width="1.2" fill="none"/>
<path d="M340 460L343 449M349 434L353.5 423L358 421L368 428M369.5 434L372 444M373.5 450L377 466L379 469L388 483L399.5 466M400.5 460L403.4 448M404.6 442L412 413L416 403L420.5 401L425 403L427 411L433 439M434.4 447L438 466L440.5 473L448 484.5L456 483L476 483L494 467.5L510 458L517 453" stroke="#000" stroke-width="2.4" fill="none" stroke-linejoin="round"/>
<path d="M336.0 462.0V468.0M328.9 462.0H343.1M328.9 468.0H343.1" stroke="#000" stroke-width="2.10" fill="none"/><ellipse cx="336.0" cy="465.0" rx="3.6" ry="2.7" fill="#000"/>
<path d="M344.0 434.0V440.5M336.9 434.0H351.1M336.9 440.5H351.1" stroke="#000" stroke-width="2.10" fill="none"/><ellipse cx="344.0" cy="439.0" rx="3.6" ry="2.7" fill="#000"/>
<path d="M358.0 417.6V425.0M350.9 417.6H365.1M350.9 425.0H365.1" stroke="#000" stroke-width="2.10" fill="none"/><ellipse cx="358.0" cy="421.0" rx="3.6" ry="2.7" fill="#000"/>
<path d="M368.0 423.0V435.0M360.9 423.0H375.1M360.9 435.0H375.1" stroke="#000" stroke-width="2.10" fill="none"/><ellipse cx="368.0" cy="428.0" rx="3.6" ry="2.7" fill="#000"/>
<path d="M379.0 466.0V473.0M371.9 466.0H386.1M371.9 473.0H386.1" stroke="#000" stroke-width="2.10" fill="none"/><ellipse cx="379.0" cy="469.0" rx="3.6" ry="2.7" fill="#000"/>
<path d="M388.0 480.0V486.0M380.9 480.0H395.1M380.9 486.0H395.1" stroke="#000" stroke-width="2.10" fill="none"/><ellipse cx="388.0" cy="483.0" rx="3.6" ry="2.7" fill="#000"/>
<path d="M399.5 462.0V470.0M392.4 462.0H406.6M392.4 470.0H406.6" stroke="#000" stroke-width="2.10" fill="none"/><ellipse cx="399.5" cy="466.0" rx="3.6" ry="2.7" fill="#000"/>
<path d="M420.5 399.6V406.0M413.4 399.6H427.6M413.4 406.0H427.6" stroke="#000" stroke-width="2.10" fill="none"/><ellipse cx="420.5" cy="402.0" rx="3.6" ry="2.7" fill="#000"/>
<path d="M440.5 471.0V476.0M433.4 471.0H447.6M433.4 476.0H447.6" stroke="#000" stroke-width="2.10" fill="none"/><ellipse cx="440.5" cy="473.0" rx="3.6" ry="2.7" fill="#000"/>
<path d="M448.0 482.0V488.0M440.9 482.0H455.1M440.9 488.0H455.1" stroke="#000" stroke-width="2.10" fill="none"/><ellipse cx="448.0" cy="484.5" rx="3.6" ry="2.7" fill="#000"/>
<path d="M456.0 481.0V485.0M448.9 481.0H463.1M448.9 485.0H463.1" stroke="#000" stroke-width="2.10" fill="none"/><ellipse cx="456.0" cy="483.0" rx="3.6" ry="2.7" fill="#000"/>
<path d="M476.0 481.0V485.5M468.9 481.0H483.1M468.9 485.5H483.1" stroke="#000" stroke-width="2.10" fill="none"/><ellipse cx="476.0" cy="483.0" rx="3.6" ry="2.7" fill="#000"/>
<path d="M494.0 464.5V471.0M486.9 464.5H501.1M486.9 471.0H501.1" stroke="#000" stroke-width="2.10" fill="none"/><ellipse cx="494.0" cy="467.5" rx="3.6" ry="2.7" fill="#000"/>
<path d="M510.0 454.0V463.0M502.9 454.0H517.1M502.9 463.0H517.1" stroke="#000" stroke-width="2.10" fill="none"/><ellipse cx="510.0" cy="458.0" rx="3.6" ry="2.7" fill="#000"/>
<path d="M517.0 449.0V458.0M509.9 449.0H524.1M509.9 458.0H524.1" stroke="#000" stroke-width="2.10" fill="none"/><ellipse cx="517.0" cy="453.0" rx="3.6" ry="2.7" fill="#000"/>
<path d="M533.0 421.0H547.0M526.0 425.0H546.0M523.0 430.0H542.0M519.0 435.0H541.0M520.0 440.0H540.0" stroke="#000" stroke-width="3.0" fill="none"/>
<path d="M548.0 345.0H563.0M545.0 348.0H560.0M551.0 365.6H563.0M546.0 373.0H560.0M539.0 374.4H549.0M539.0 395.6H549.0M538.0 401.0H554.0M555.0 402.5H567.0M553.0 417.0H567.0M560.0 421.0H575.0M565.0 427.0H585.0M568.0 437.0H589.0M571.0 442.0H584.0M556 345V366M550 348V372M544.4 374V407M557 366V408M551 360L545 385M560 417L578 438M563 417V424M570 421V430M578 427V438M583 437V442" stroke="#000" stroke-width="2.1" fill="none"/>
<path d="M549 372L556 352" stroke="#000" stroke-width="3.2" fill="none"/>
<path d="M524 438.5L543 420.5" stroke="#000" stroke-width="5" fill="none"/>
<path d="M562 420L581 440" stroke="#000" stroke-width="3.2" fill="none"/>
<path d="M575 448.6H589" stroke="#000" stroke-width="0.9" fill="none"/>
<path d="M542 415.5V423" stroke="#000" stroke-width="2" fill="none"/>
<ellipse cx="556.5" cy="354.5" rx="3.2" ry="2.8" fill="#000"/>
<ellipse cx="549.5" cy="359.5" rx="3.4" ry="2.8" fill="#000"/>
<ellipse cx="544.0" cy="385.0" rx="4.0" ry="2.9" fill="#000"/>
<ellipse cx="543.0" cy="407.0" rx="3.6" ry="3.4" fill="#000"/>
<ellipse cx="557.8" cy="408.5" rx="3.8" ry="3.4" fill="#000"/>
<ellipse cx="564.0" cy="425.0" rx="3.2" ry="3.0" fill="#000"/>
<ellipse cx="572.0" cy="431.0" rx="3.2" ry="3.0" fill="#000"/>
<ellipse cx="579.0" cy="438.5" rx="3.4" ry="3.0" fill="#000"/>
</svg></body></html>
